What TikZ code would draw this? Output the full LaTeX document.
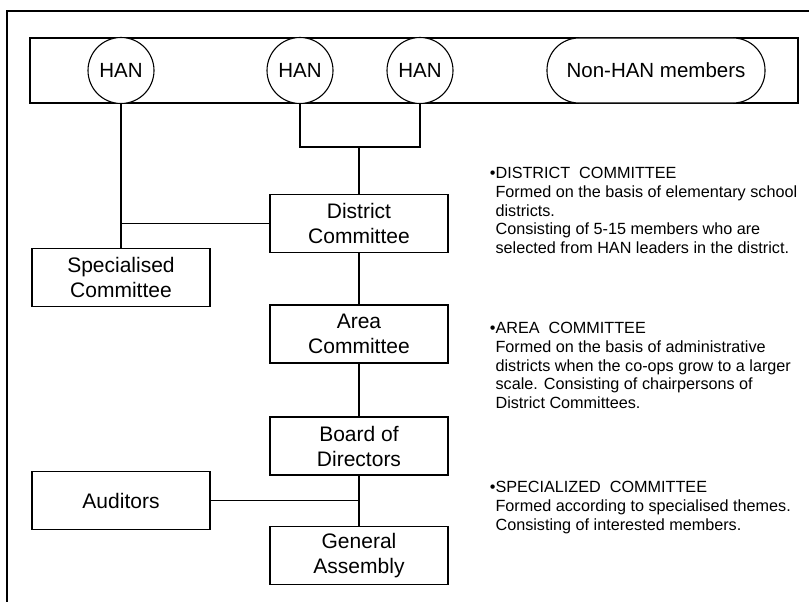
\documentclass[tikz,border=0pt]{standalone}
\usepackage{fontspec}
\setmainfont{Liberation Sans}
\begin{document}
\begin{tikzpicture}[x=1pt, y=-1pt, line width=1.1pt,
  box/.style={draw, fill=white, minimum width=178pt, minimum height=58pt, inner sep=0pt,
    align=center, font=\fontsize{21}{25}\selectfont},
  han/.style={draw, fill=white, circle, minimum size=66pt, inner sep=0pt,
    font=\fontsize{20.5}{24}\selectfont},
  note/.style={anchor=north west, align=left, inner sep=0pt,
    font=\fontsize{16.2}{18.7}\selectfont}]
\useasboundingbox (0,0) rectangle (809,602);

\draw (809,11) -- (7,11) -- (7,602);

\node [draw, minimum width=768pt, minimum height=65pt, inner sep=0pt] (band) at (414,70.5) {};

\foreach \name/\xp in {han1/121, han2/300, han3/420}
{
\node [han] (\name) at (\xp,70.5) {HAN};
}
\node [draw, fill=white, rounded corners=32pt, minimum width=218pt, minimum height=65pt,
  inner sep=0pt, font=\fontsize{20.5}{24}\selectfont] (nonhan) at (656,70.5) {Non-HAN members};

\node [box] (dist) at (359,223.5) {District\\Committee};
\node [box] (spec) at (121,277.5) {Specialised\\Committee};
\node [box] (area) at (359,334) {Area\\Committee};
\node [box] (board) at (359,446) {Board of\\Directors};
\node [box] (aud) at (121,500.5) {Auditors};
\node [box] (gen) at (359,555.5) {General\\Assembly};

\coordinate (join) at (359,147);
\coordinate (tee) at (359,500.5);

\draw (han2.south) |- (join) -| (han3.south);
\draw (join) -- (dist.north);
\draw (han1.south) -- (spec.north);
\draw (han1.south) |- (dist.west);
\draw (dist) -- (area);
\draw (area) -- (board);
\draw (board) -- (gen);
\draw (aud.east) -- (tee);

\node [note] (distnote) at (495,167) {\llap{•}DISTRICT\ \ COMMITTEE\\
Formed on the basis of elementary school\\
districts.\\
Consisting of 5-15 members who are\\
selected from HAN leaders in the district.};
\node [note] (areanote) at (495,322) {\llap{•}AREA\ \ COMMITTEE\\
Formed on the basis of administrative\\
districts when the co-ops grow to a larger\\
scale. Consisting of chairpersons of\\
District Committees.};
\node [note] (specnote) at (495,481) {\llap{•}SPECIALIZED\ \ COMMITTEE\\
Formed according to specialised themes.\\
Consisting of interested members.};

\end{tikzpicture}
\end{document}
